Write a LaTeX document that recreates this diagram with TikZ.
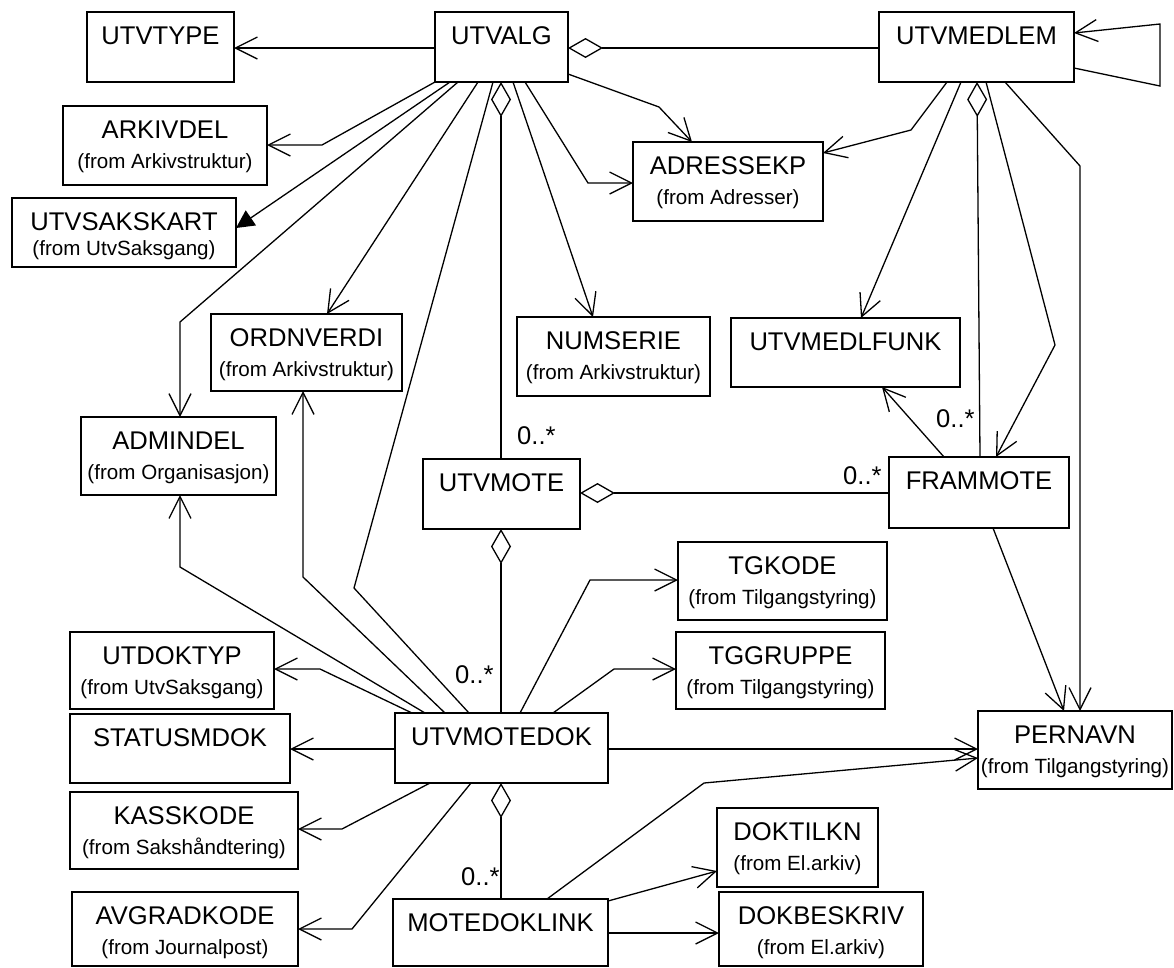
\documentclass[tikz,border=0pt]{standalone}
\usepackage{fontspec}
\setmainfont{Liberation Sans}
\usetikzlibrary{arrows.meta,calc}
\tikzset{
  box/.style={draw, line width=2pt, rectangle, anchor=north west, inner sep=0pt, outer sep=0pt},
  ttl/.style={anchor=base, inner sep=0pt, font=\fontsize{25.6}{28}\selectfont},
  sub/.style={anchor=base, inner sep=0pt, font=\fontsize{20.6}{24}\selectfont},
  mult/.style={anchor=base west, inner sep=0pt, font=\fontsize{25.6}{28}\selectfont},
  conn/.style={line width=1.3pt, line join=miter},
  nav/.style={conn, -{Straight Barb[length=22pt,width=22pt,line width=1.3pt]}},
  agg/.style={conn, {Diamond[open,length=35pt,width=20pt,line width=1.3pt]}-},
  gen/.style={conn, -{Triangle[length=18pt,width=18pt]}},
}
\newcommand\cls[7]{%
  \node[box, minimum width=#4pt, minimum height=#5pt] (#1) at (#2,#3) {};
  \node[ttl] (#1-t) at ([shift={(0,32)}]#1.north) {#6};
  \node[sub] (#1-s) at ([shift={(0,62)}]#1.north) {#7};
}
\begin{document}
\begin{tikzpicture}[x=1pt,y=-1pt]
\useasboundingbox (0,0) rectangle (1174,967);
% classes
\cls{utvtype}{87}{12}{147}{70}{UTVTYPE}{}
\cls{utvalg}{435}{12}{133}{70}{UTVALG}{}
\cls{utvmedlem}{879}{12}{195}{70}{UTVMEDLEM}{}
\cls{arkivdel}{63}{106}{204}{79}{ARKIVDEL}{(from Arkivstruktur)}
\node[box, minimum width=224pt, minimum height=69pt] (utvsakskart) at (12,198) {};
\node[ttl] (utvsakskart-t) at ([shift={(0,32)}]utvsakskart.north) {UTVSAKSKART};
\node[sub] (utvsakskart-s) at ([shift={(0,57)}]utvsakskart.north) {(from UtvSaksgang)};
\cls{adressekp}{633}{142}{190}{79}{ADRESSEKP}{(from Adresser)}
\cls{ordnverdi}{211}{314}{191}{77}{ORDNVERDI}{(from Arkivstruktur)}
\cls{numserie}{517}{317}{193}{79}{NUMSERIE}{(from Arkivstruktur)}
\cls{utvmedlfunk}{731}{318}{229}{69}{UTVMEDLFUNK}{}
\cls{admindel}{81}{417}{195}{78}{ADMINDEL}{(from Organisasjon)}
\cls{utvmote}{423}{459}{157}{70}{UTVMOTE}{}
\cls{frammote}{889}{457}{180}{71}{FRAMMOTE}{}
\cls{tgkode}{678}{542}{209}{78}{TGKODE}{(from Tilgangstyring)}
\cls{tggruppe}{676}{632}{209}{77}{TGGRUPPE}{(from Tilgangstyring)}
\cls{utdoktyp}{70}{632}{204}{77}{UTDOKTYP}{(from UtvSaksgang)}
\cls{statusmdok}{70}{714}{220}{69}{STATUSMDOK}{}
\cls{utvmotedok}{395}{713}{213}{70}{UTVMOTEDOK}{}
\cls{pernavn}{978}{711}{194}{78}{PERNAVN}{(from Tilgangstyring)}
\cls{kasskode}{70}{792}{228}{77}{KASSKODE}{(from Sakshåndtering)}
\cls{doktilkn}{717}{808}{161}{79}{DOKTILKN}{(from El.arkiv)}
\cls{avgradkode}{72}{892}{226}{74}{AVGRADKODE}{(from Journalpost)}
\cls{motedoklink}{393}{899}{215}{67}{MOTEDOKLINK}{}
\cls{dokbeskriv}{719}{892}{204}{74}{DOKBESKRIV}{(from El.arkiv)}

% connectors from UTVALG
\draw[nav] ([shift={(0,36)}]utvalg.north west) -- ([shift={(147,36)}]utvtype.north west);
\draw[agg] ([shift={(133,36)}]utvalg.north west) -- ([shift={(0,36)}]utvmedlem.north west);
\draw[nav] ([shift={(0,70)}]utvalg.north west) -- (322,145) -- ([shift={(204,39)}]arkivdel.north west);
\draw[gen] ([shift={(15,70)}]utvalg.north west) -- ([shift={(224,30)}]utvsakskart.north west);
\draw[nav] ([shift={(23,70)}]utvalg.north west) -- (180,322) -- ([shift={(99,0)}]admindel.north west);
\draw[nav] ([shift={(43,70)}]utvalg.north west) -- ([shift={(116,0)}]ordnverdi.north west);
\draw[conn] ([shift={(58,70)}]utvalg.north west) -- (354,588) -- ([shift={(74,0)}]utvmotedok.north west);
\draw[agg] ([shift={(66,70)}]utvalg.north west) -- ([shift={(78,0)}]utvmote.north west);
\draw[nav] ([shift={(78,70)}]utvalg.north west) -- ([shift={(76,0)}]numserie.north west);
\draw[nav] ([shift={(90,70)}]utvalg.north west) -- (588,183) -- ([shift={(0,41)}]adressekp.north west);
\draw[nav] ([shift={(133,62)}]utvalg.north west) -- (659,107) -- ([shift={(59,0)}]adressekp.north west);

% connectors from UTVMEDLEM
\draw[nav] ([shift={(68,70)}]utvmedlem.north west) -- (911,130) -- ([shift={(190,11)}]adressekp.north west);
\draw[nav] ([shift={(82,70)}]utvmedlem.north west) -- ([shift={(130,0)}]utvmedlfunk.north west);
\draw[agg] ([shift={(98,70)}]utvmedlem.north west) -- ([shift={(91,0)}]frammote.north west);
\draw[nav] ([shift={(107,70)}]utvmedlem.north west) -- (1055,345) -- ([shift={(107,0)}]frammote.north west);
\draw[nav] ([shift={(126,70)}]utvmedlem.north west) -- (1080,166) -- ([shift={(102,0)}]pernavn.north west);
\draw[nav] ([shift={(195,56)}]utvmedlem.north west) -- (1160,86) -- (1160,24) -- ([shift={(195,21)}]utvmedlem.north west);

% FRAMMOTE, UTVMOTE
\draw[nav] ([shift={(55,0)}]frammote.north west) -- ([shift={(151,69)}]utvmedlfunk.north west);
\draw[agg] ([shift={(157,34)}]utvmote.north west) -- ([shift={(0,36)}]frammote.north west);
\draw[agg] ([shift={(78,70)}]utvmote.north west) -- ([shift={(106,0)}]utvmotedok.north west);
\draw[nav] ([shift={(104,71)}]frammote.north west) -- ([shift={(86,0)}]pernavn.north west);

% connectors from UTVMOTEDOK
\draw[nav] ([shift={(30,0)}]utvmotedok.north west) -- (180,567) -- ([shift={(99,78)}]admindel.north west);
\draw[nav] ([shift={(50,0)}]utvmotedok.north west) -- (303,577) -- ([shift={(92,77)}]ordnverdi.north west);
\draw[nav] ([shift={(17,0)}]utvmotedok.north west) -- (320,669) -- ([shift={(204,37)}]utdoktyp.north west);
\draw[nav] ([shift={(0,36)}]utvmotedok.north west) -- ([shift={(220,35)}]statusmdok.north west);
\draw[nav] ([shift={(35,70)}]utvmotedok.north west) -- (342,829) -- ([shift={(228,37)}]kasskode.north west);
\draw[nav] ([shift={(76,70)}]utvmotedok.north west) -- (352,929) -- ([shift={(226,37)}]avgradkode.north west);
\draw[agg] ([shift={(106,70)}]utvmotedok.north west) -- ([shift={(108,0)}]motedoklink.north west);
\draw[nav] ([shift={(125,0)}]utvmotedok.north west) -- (590,580) -- ([shift={(0,38)}]tgkode.north west);
\draw[nav] ([shift={(158,0)}]utvmotedok.north west) -- (614,669) -- ([shift={(0,37)}]tggruppe.north west);
\draw[nav] ([shift={(213,36)}]utvmotedok.north west) -- ([shift={(0,38)}]pernavn.north west);

% connectors from MOTEDOKLINK
\draw[nav] ([shift={(154,0)}]motedoklink.north west) -- (704,783) -- ([shift={(0,47)}]pernavn.north west);
\draw[nav] ([shift={(215,2)}]motedoklink.north west) -- ([shift={(0,63)}]doktilkn.north west);
\draw[nav] ([shift={(215,34)}]motedoklink.north west) -- ([shift={(0,41)}]dokbeskriv.north west);

% multiplicities
\node[mult] (m1) at (517,444) {0..*};
\node[mult] (m2) at (936,427) {0..*};
\node[mult] (m3) at (843,484) {0..*};
\node[mult] (m4) at (455,683) {0..*};
\node[mult] (m5) at (461,885) {0..*};
\end{tikzpicture}
\end{document}
